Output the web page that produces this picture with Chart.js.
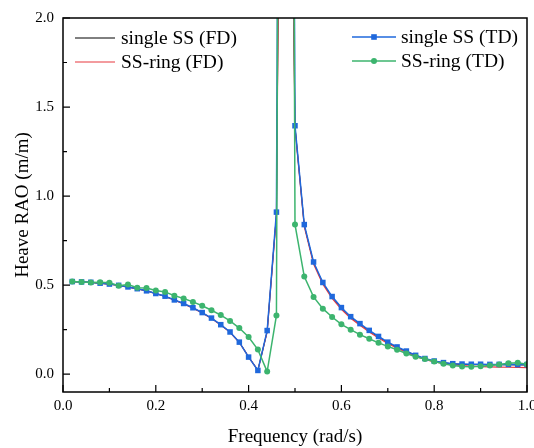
<!DOCTYPE html>
<html>
<head>
<meta charset="utf-8">
<script src="https://cdn.jsdelivr.net/npm/chart.js@4.4.1/dist/chart.umd.min.js"></script>
<style>
  body { margin: 0; background: #fff; }
  canvas { display: block; }
</style>
</head>
<body>
<canvas id="rao-chart" width="534" height="448"></canvas>
<script>
// time-domain frequencies (rad/s)
const tdFreq = [0.02, 0.04, 0.06, 0.08, 0.10, 0.12, 0.14, 0.16, 0.18, 0.20,
    0.22, 0.24, 0.26, 0.28, 0.30, 0.32, 0.34, 0.36, 0.38, 0.40,
    0.42, 0.44, 0.46, 0.48, 0.50, 0.52, 0.54, 0.56, 0.58, 0.60,
    0.62, 0.64, 0.66, 0.68, 0.70, 0.72, 0.74, 0.76, 0.78, 0.80,
    0.82, 0.84, 0.86, 0.88, 0.90, 0.92, 0.94, 0.96, 0.98, 1.00];

const singleTD = [0.520, 0.518, 0.516, 0.511, 0.506, 0.499, 0.490, 0.480, 0.468, 0.453,
    0.438, 0.417, 0.397, 0.373, 0.346, 0.315, 0.278, 0.237, 0.180, 0.096,
    0.021, 0.245, 0.910, 12.0, 1.395, 0.840, 0.630, 0.515, 0.436, 0.374,
    0.323, 0.284, 0.246, 0.212, 0.180, 0.153, 0.130, 0.106, 0.088, 0.074,
    0.065, 0.059, 0.057, 0.056, 0.056, 0.055, 0.055, 0.055, 0.054, 0.054];

const ringTD = [0.520, 0.518, 0.515, 0.516, 0.514, 0.497, 0.503, 0.486, 0.484, 0.470,
    0.461, 0.441, 0.425, 0.406, 0.384, 0.359, 0.332, 0.299, 0.259, 0.209,
    0.138, 0.015, 0.330, 15.0, 0.840, 0.548, 0.434, 0.368, 0.321, 0.280,
    0.250, 0.222, 0.199, 0.176, 0.156, 0.137, 0.116, 0.098, 0.085, 0.071,
    0.058, 0.049, 0.043, 0.042, 0.045, 0.049, 0.054, 0.062, 0.064, 0.056];

// frequency-domain frequencies (rad/s), finer around the resonance
const fdFreq = [0.02, 0.04, 0.06, 0.08, 0.10, 0.12, 0.14, 0.16, 0.18, 0.20,
    0.22, 0.24, 0.26, 0.28, 0.30, 0.32, 0.34, 0.36, 0.38, 0.40,
    0.42, 0.44, 0.46, 0.47, 0.48, 0.49, 0.50, 0.52, 0.54, 0.56, 0.58, 0.60,
    0.62, 0.64, 0.66, 0.68, 0.70, 0.72, 0.74, 0.76, 0.78, 0.80,
    0.82, 0.84, 0.86, 0.88, 0.90, 0.92, 0.94, 0.96, 0.98, 1.00];

const singleFD = [0.520, 0.518, 0.516, 0.511, 0.506, 0.499, 0.490, 0.480, 0.468, 0.453,
    0.437, 0.417, 0.396, 0.372, 0.345, 0.314, 0.277, 0.236, 0.180, 0.098,
    0.022, 0.240, 0.900, 4.00, 20.0, 3.50, 1.390, 0.835, 0.625, 0.512, 0.433, 0.371,
    0.320, 0.281, 0.243, 0.209, 0.178, 0.151, 0.128, 0.105, 0.087, 0.073,
    0.064, 0.058, 0.055, 0.054, 0.054, 0.053, 0.053, 0.053, 0.052, 0.052];

const ringFD = [0.519, 0.517, 0.515, 0.510, 0.505, 0.498, 0.489, 0.479, 0.467, 0.452,
    0.436, 0.416, 0.395, 0.371, 0.344, 0.313, 0.276, 0.235, 0.178, 0.097,
    0.022, 0.238, 0.890, 4.00, 20.0, 3.50, 1.380, 0.828, 0.618, 0.505, 0.426, 0.364,
    0.314, 0.275, 0.237, 0.203, 0.172, 0.146, 0.123, 0.100, 0.083, 0.069,
    0.060, 0.053, 0.048, 0.045, 0.043, 0.041, 0.040, 0.039, 0.038, 0.037];

const xTicksMajor = [0.0, 0.2, 0.4, 0.6, 0.8, 1.0];
const yTicksMajor = [0.0, 0.5, 1.0, 1.5, 2.0];

const BLUE = '#1f68dc';
const GREEN = '#3cb46e';
const RED = '#e8383f';
const SERIF = '"Liberation Serif", "Times New Roman", serif';

function toPoints(xs, ys) {
    return xs.map((x, i) => ({ x: x, y: ys[i] }));
}

// box, inward ticks and the two-column legend
const framePlugin = {
    id: 'frame',
    afterDraw(chart) {
        const ctx = chart.ctx;
        const area = chart.chartArea;
        const xs = chart.scales.x;
        const ys = chart.scales.y;
        ctx.save();
        ctx.strokeStyle = '#000';
        ctx.lineWidth = 1.2;
        // minor / major ticks
        ctx.beginPath();
        xs.ticks.forEach(t => {
            const px = xs.getPixelForValue(t.value);
            ctx.moveTo(px, area.bottom);
            ctx.lineTo(px, area.bottom - 7);
            const mid = t.value + 0.1;
            if (mid < xs.max) {
                const pm = xs.getPixelForValue(mid);
                ctx.moveTo(pm, area.bottom);
                ctx.lineTo(pm, area.bottom - 4);
            }
        });
        ys.ticks.forEach(t => {
            const py = ys.getPixelForValue(t.value);
            ctx.moveTo(area.left, py);
            ctx.lineTo(area.left + 7, py);
            const mid = t.value + 0.25;
            if (mid < ys.max) {
                const pm = ys.getPixelForValue(mid);
                ctx.moveTo(area.left, pm);
                ctx.lineTo(area.left + 4, pm);
            }
        });
        ctx.stroke();
        ctx.lineWidth = 1.5;
        ctx.strokeRect(area.left, area.top, area.right - area.left, area.bottom - area.top);

        // legend
        ctx.font = '19.5px ' + SERIF;
        ctx.fillStyle = '#000';
        ctx.textBaseline = 'middle';
        const entries = [
            { x: 75, y: 38, len: 40, gap: 46, color: '#000', width: 1, text: 'single SS (FD)' },
            { x: 75, y: 62, len: 40, gap: 46, color: RED, width: 1.2, text: 'SS-ring (FD)' },
            { x: 352, y: 37, len: 44, gap: 49, color: BLUE, width: 1.5, text: 'single SS (TD)', marker: 'rect' },
            { x: 352, y: 61, len: 44, gap: 49, color: GREEN, width: 1.5, text: 'SS-ring (TD)', marker: 'circle' }
        ];
        entries.forEach(e => {
            ctx.strokeStyle = e.color;
            ctx.lineWidth = e.width;
            ctx.beginPath();
            ctx.moveTo(e.x, e.y);
            ctx.lineTo(e.x + e.len, e.y);
            ctx.stroke();
            ctx.fillStyle = e.color;
            const cx = e.x + e.len / 2;
            if (e.marker === 'rect') {
                ctx.fillRect(cx - 2.8, e.y - 2.8, 5.6, 5.6);
            } else if (e.marker === 'circle') {
                ctx.beginPath();
                ctx.arc(cx, e.y, 3, 0, Math.PI * 2);
                ctx.fill();
            }
            ctx.fillStyle = '#000';
            ctx.fillText(e.text, e.x + e.gap, e.y + 1);
        });
        ctx.restore();
    }
};

const canvas = document.querySelector('#rao-chart');

new Chart(canvas.getContext('2d'), {
    type: 'line',
    data: {
        datasets: [
            {
                label: 'SS-ring (TD)',
                data: toPoints(tdFreq, ringTD),
                borderColor: GREEN,
                backgroundColor: GREEN,
                borderWidth: 1.5,
                pointStyle: 'circle',
                pointRadius: 3,
                pointBorderWidth: 0,
                order: 0
            },
            {
                label: 'single SS (TD)',
                data: toPoints(tdFreq, singleTD),
                borderColor: BLUE,
                backgroundColor: BLUE,
                borderWidth: 1.5,
                pointStyle: 'rect',
                pointRadius: 3.9,
                pointBorderWidth: 0,
                order: 1
            },
            {
                label: 'SS-ring (FD)',
                data: toPoints(fdFreq, ringFD),
                borderColor: RED,
                borderWidth: 1.2,
                pointRadius: 0,
                order: 2
            },
            {
                label: 'single SS (FD)',
                data: toPoints(fdFreq, singleFD),
                borderColor: '#000',
                borderWidth: 1,
                pointRadius: 0,
                order: 3
            }
        ]
    },
    options: {
        responsive: false,
        animation: false,
        devicePixelRatio: 1,
        layout: { padding: { top: 18, right: 7, left: 0, bottom: 0 } },
        plugins: {
            legend: { display: false },
            tooltip: { enabled: false }
        },
        scales: {
            x: {
                type: 'linear',
                min: 0,
                max: 1.0,
                afterBuildTicks: scale => { scale.ticks = xTicksMajor.map(v => ({ value: v })); },
                afterFit: scale => {
                    scale.height = 56;
                    scale.paddingLeft = 0;
                    scale.paddingRight = 0;
                },
                grid: { display: false, drawTicks: false },
                border: { display: false },
                ticks: {
                    color: '#000',
                    padding: 5,
                    maxRotation: 0,
                    autoSkip: false,
                    font: { family: SERIF, size: 15 },
                    callback: v => v.toFixed(1)
                },
                title: {
                    display: true,
                    text: 'Frequency (rad/s)',
                    color: '#000',
                    padding: { top: 0, bottom: 0 },
                    font: { family: SERIF, size: 19 }
                }
            },
            y: {
                min: -0.1,
                max: 2.0,
                afterBuildTicks: scale => { scale.ticks = yTicksMajor.map(v => ({ value: v })); },
                afterFit: scale => {
                    scale.width = 63;
                    scale.paddingTop = 0;
                    scale.paddingBottom = 0;
                },
                grid: { display: false, drawTicks: false },
                border: { display: false },
                ticks: {
                    color: '#000',
                    padding: 9,
                    font: { family: SERIF, size: 15 },
                    callback: v => v.toFixed(1)
                },
                title: {
                    display: true,
                    text: 'Heave RAO (m/m)',
                    color: '#000',
                    padding: { top: 12, bottom: 0 },
                    font: { family: SERIF, size: 19 }
                }
            }
        }
    },
    plugins: [framePlugin]
});
</script>
</body>
</html>
